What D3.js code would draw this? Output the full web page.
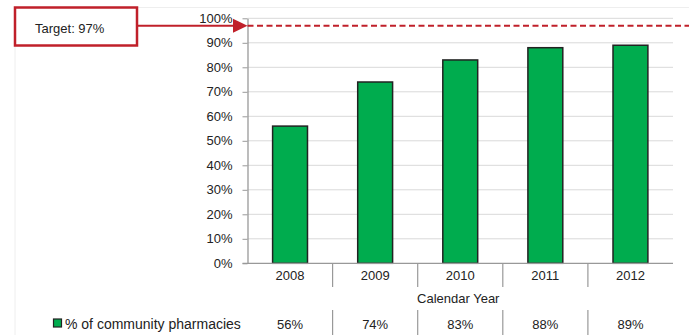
<!DOCTYPE html>
<html><head><meta charset="utf-8">
<script src="https://cdn.jsdelivr.net/npm/d3@7"></script>
<style>body{margin:0;background:#fff}svg{display:block;font-family:"Liberation Sans",Arial,sans-serif}</style>
</head><body><svg id="c" width="689" height="335"></svg>
<script>
const years = ["2008","2009","2010","2011","2012"];
const values = [56, 74, 83, 88, 89];
const valueLabels = ["56%","74%","83%","88%","89%"];
const yTicks = [0,10,20,30,40,50,60,70,80,90,100];
const target = 97;
const seriesName = "% of community pharmacies";
const axisTitle = "Calendar Year";
const targetLabel = "Target: 97%";

const svg = d3.select("#c");
const L = 247.5, R = 673, T = 18.3, B = 263.3;
const x = d3.scaleBand().domain(years).range([L, R]).paddingInner(0).paddingOuter(0);
const y = d3.scaleLinear().domain([0, 100]).range([B, T]);
const red = "#C0202A";
const fs = 13;

// faint chart border
svg.append("path").attr("d", `M15,335 V7.5 H689`).attr("fill","none").attr("stroke","#eeeeee").attr("stroke-width",1);

// gridlines
svg.append("g").selectAll("line").data(yTicks.filter(d=>d>0)).join("line")
  .attr("x1", L).attr("x2", R).attr("y1", d=>y(d)).attr("y2", d=>y(d))
  .attr("stroke", "#d9d9d9").attr("stroke-width", 1);

// y axis
const ya = svg.append("g").attr("transform", `translate(${L},0)`)
  .call(d3.axisLeft(y).tickValues(yTicks).tickFormat(d=>d+"%").tickSize(5).tickSizeOuter(0));
ya.select(".domain").attr("stroke","#999").attr("stroke-width",1.3);
ya.selectAll(".tick line").attr("stroke","#999");
ya.selectAll(".tick text").attr("font-size",fs).attr("fill","#222").attr("x",-15).attr("font-family","Liberation Sans, Arial, sans-serif");

// bars
svg.append("g").selectAll("rect").data(values).join("rect")
  .attr("x", (d,i)=>x(years[i]) + x.bandwidth()*0.295)
  .attr("width", x.bandwidth()*0.41)
  .attr("y", d=>y(d))
  .attr("height", d=>B - y(d))
  .attr("fill", "#00AC4E").attr("stroke", "#222").attr("stroke-width", 1.5);

// x axis line
svg.append("line").attr("x1", L-5).attr("x2", R).attr("y1", B).attr("y2", B).attr("stroke","#999").attr("stroke-width",1.3);
// category dividers
const edges = years.slice(1).map(d=>x(d));
svg.append("g").selectAll("line").data(edges).join("line")
  .attr("x1", d=>d).attr("x2", d=>d).attr("y1", B).attr("y2", 287)
  .attr("stroke","#999").attr("stroke-width",1.2);
svg.append("g").selectAll("line").data(edges).join("line")
  .attr("x1", d=>d).attr("x2", d=>d).attr("y1", 310).attr("y2", 335)
  .attr("stroke","#999").attr("stroke-width",1.2);

// category labels
svg.append("g").selectAll("text").data(years).join("text")
  .attr("x", d=>x(d)+x.bandwidth()/2).attr("y", 280).attr("text-anchor","middle")
  .attr("font-size",fs).attr("fill","#222").text(d=>d);
svg.append("text").attr("x", (L+R)/2 - 2).attr("y", 303).attr("text-anchor","middle")
  .attr("font-size",fs).attr("fill","#222").text(axisTitle);

// data table row
svg.append("g").selectAll("text").data(valueLabels).join("text")
  .attr("x", (d,i)=>x(years[i])+x.bandwidth()/2).attr("y", 329).attr("text-anchor","middle")
  .attr("font-size",fs).attr("fill","#222").text(d=>d);
svg.append("rect").attr("x",53.5).attr("y",319).attr("width",8).attr("height",8)
  .attr("fill","#00AC4E").attr("stroke","#222").attr("stroke-width",1.2);
svg.append("text").attr("x",65).attr("y",329).attr("font-size",14).attr("fill","#222").text(seriesName);

// target line
svg.append("line").attr("x1", L).attr("x2", 689).attr("y1", y(target)).attr("y2", y(target))
  .attr("stroke", red).attr("stroke-width", 2).attr("stroke-dasharray","6,3.5");

// target box & arrow
svg.append("rect").attr("x",15).attr("y",7.5).attr("width",122).attr("height",38)
  .attr("fill","#fff").attr("stroke",red).attr("stroke-width",2.5);
svg.append("text").attr("x",35).attr("y",32.5).attr("font-size",fs).attr("fill","#222").text(targetLabel);
svg.append("line").attr("x1",137).attr("x2",234).attr("y1",y(target)).attr("y2",y(target))
  .attr("stroke",red).attr("stroke-width",2);
const ty = y(target);
svg.append("path").attr("d", `M${L},${ty} L233,${ty-7} L233,${ty+7} Z`).attr("fill", red);
</script></body></html>
